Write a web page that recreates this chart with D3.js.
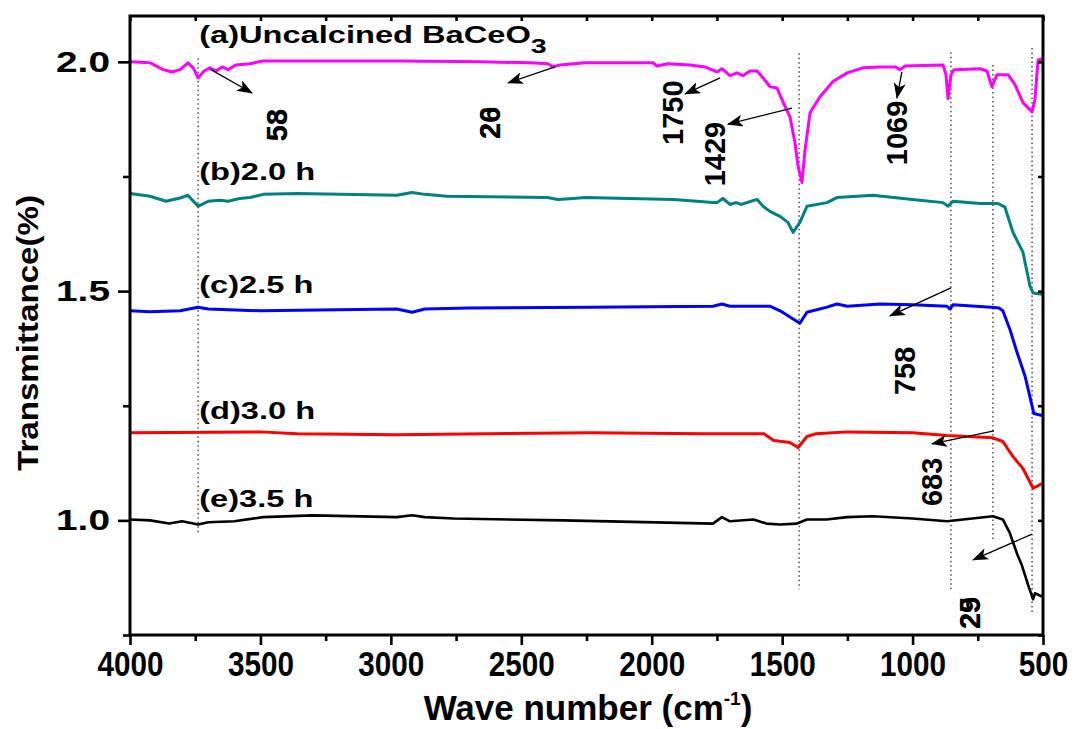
<!DOCTYPE html>
<html>
<head>
<meta charset="utf-8">
<script src="https://cdn.jsdelivr.net/npm/d3@7"></script>
<style>
  html, body { margin: 0; padding: 0; background: #fff; }
  text { font-family: "Liberation Sans", Arial, sans-serif; font-weight: bold; }
</style>
</head>
<body>
<div id="chart"></div>
<script>
// spectra as [wave number, transmittance]
var uncalcined = [[4000,2.000],[3923,1.998],[3873,1.983],[3839,1.978],[3808,1.983],[3778,1.998],[3758,1.987],
  [3739,1.965],[3716,1.980],[3693,1.987],[3670,1.980],[3647,1.989],[3624,1.983],[3594,1.993],[3540,1.996],
  [3490,2.002],[3348,2.002],[2965,2.002],[2658,2.000],[2467,1.998],[2398,1.996],[2378,1.989],[2352,1.993],
  [2256,1.998],[1995,1.998],[1980,1.991],[1938,1.996],[1853,1.993],[1796,1.989],[1750,1.978],[1731,1.985],
  [1700,1.970],[1673,1.976],[1650,1.970],[1623,1.980],[1596,1.980],[1573,1.965],[1547,1.946],[1520,1.943],
  [1497,1.913],[1470,1.880],[1451,1.824],[1439,1.772],[1424,1.737],[1412,1.809],[1393,1.889],[1355,1.924],
  [1305,1.957],[1251,1.976],[1190,1.987],[1125,1.989],[1067,1.989],[1048,1.983],[1029,1.991],[883,1.993],
  [872,1.972],[864,1.920],[853,1.972],[841,1.983],[742,1.985],[715,1.980],[696,1.946],[676,1.972],
  [634,1.972],[607,1.950],[577,1.911],[542,1.891],[531,1.917],[519,2.004],[500,2.007]];
var h20 = [[4000,1.713],[3923,1.707],[3862,1.696],[3808,1.703],[3778,1.709],[3739,1.685],[3700,1.696],
  [3655,1.698],[3624,1.696],[3580,1.702],[3540,1.704],[3490,1.711],[3360,1.713],[2977,1.709],[2919,1.715],
  [2870,1.711],[2785,1.707],[2400,1.704],[2360,1.700],[2300,1.702],[2256,1.704],[1915,1.700],[1765,1.693],
  [1750,1.693],[1727,1.702],[1700,1.689],[1677,1.693],[1658,1.689],[1596,1.700],[1573,1.685],[1547,1.674],
  [1508,1.663],[1478,1.650],[1458,1.628],[1432,1.650],[1405,1.685],[1328,1.693],[1290,1.704],[1152,1.709],
  [1000,1.700],[883,1.693],[864,1.685],[845,1.696],[742,1.691],[673,1.691],[646,1.683],[615,1.628],
  [577,1.585],[550,1.511],[538,1.496],[504,1.493]];
var h25 = [[4000,1.457],[3923,1.455],[3808,1.457],[3739,1.465],[3700,1.461],[3500,1.457],[2977,1.461],
  [2919,1.454],[2870,1.461],[2700,1.463],[2237,1.465],[1765,1.467],[1731,1.472],[1700,1.467],[1547,1.467],
  [1508,1.457],[1458,1.439],[1432,1.430],[1405,1.454],[1328,1.465],[1290,1.472],[1250,1.467],[1125,1.472],
  [1000,1.470],[868,1.467],[857,1.461],[845,1.470],[700,1.465],[669,1.463],[654,1.457],[627,1.417],
  [600,1.367],[569,1.315],[535,1.233],[500,1.228]];
var h30 = [[4000,1.191],[3500,1.193],[3360,1.189],[2977,1.187],[2237,1.191],[1800,1.189],[1570,1.189],
  [1532,1.174],[1470,1.170],[1439,1.159],[1405,1.183],[1370,1.189],[1251,1.193],[1000,1.191],[868,1.185],
  [692,1.180],[654,1.172],[615,1.139],[577,1.113],[538,1.070],[504,1.080]];
var h35 = [[4000,1.002],[3923,1.000],[3850,0.993],[3800,0.998],[3739,0.991],[3700,0.996],[3600,0.998],
  [3490,1.007],[3300,1.011],[2977,1.007],[2919,1.011],[2870,1.007],[2760,1.004],[2340,1.000],[1765,0.993],
  [1731,1.007],[1700,0.998],[1610,1.002],[1560,0.993],[1508,0.991],[1444,0.993],[1405,1.002],[1330,1.002],
  [1251,1.007],[1152,1.009],[1000,1.004],[868,0.998],[692,1.009],[654,1.002],[627,0.972],[600,0.928],
  [581,0.902],[554,0.854],[538,0.828],[531,0.841],[504,0.834]];

var seriesData = [uncalcined, h20, h25, h30, h35];
var seriesColors = ["#ff00ff", "#008080", "#0000ff", "#ff0000", "#000000"];
var seriesNames = ["(a)Uncalcined BaCeO", "(b)2.0 h", "(c)2.5 h", "(d)3.0 h", "(e)3.5 h"];
var seriesLabelT = [2.041, 1.742, 1.496, 1.221, 1.029];

var xMajor = [4000, 3500, 3000, 2500, 2000, 1500, 1000, 500];
var xMinor = [3750, 3250, 2750, 2250, 1750, 1250, 750];
var yMajor = [1.0, 1.5, 2.0];
var yMinor = [0.75, 1.25, 1.75];

// dotted guide lines: [wave number, T top, T bottom]
var guides = [[3739, 2.008, 0.970], [1435, 2.019, 0.850], [853, 2.021, 0.850], [692, 1.993, 0.957], [542, 2.030, 0.798]];
// arrows: [from wn, from T, to wn, to T]
var arrows = [[3693,1.984,3532,1.932],[2371,1.989,2551,1.954],[1738,1.965,1872,1.930],[1462,1.899,1708,1.864],
  [1041,1.978,1060,1.921],[853,1.507,1087,1.446],[688,1.195,926,1.167],[542,0.970,768,0.914]];
// peak labels (rotated): [text, wn, T]
var peakLabels = [["53",3436,1.862],["58",3436,1.862],["20",2620,1.867],["26",2620,1.867],["1750",1918,1.889],
  ["1429",1757,1.799],["1069",1060,1.845],["758",1029,1.326],["683",926,1.084],["25",780,0.798],["29",780,0.798]];

function drawChart() {
  var width = 1077, height = 729;
  var mLeft = 130, mRight = 1043, mTop = 16, mBottom = 635;

  var x = d3.scaleLinear().domain([4000, 500]).range([mLeft, mRight]);
  var y = d3.scaleLinear().domain([0.75, 2.1]).range([mBottom, mTop]);

  var svg = d3.select("#chart").append("svg")
    .attr("width", width).attr("height", height);

  svg.append("defs").append("marker").attr("id", "arrowhead")
    .attr("markerUnits", "userSpaceOnUse")
    .attr("markerWidth", 16).attr("markerHeight", 12)
    .attr("refX", 15).attr("refY", 6)
    .attr("orient", "auto")
    .append("path").attr("d", "M0,0 L16,6 L0,12 L4,6 Z").attr("fill", "#000");

  // guide lines
  svg.append("g").selectAll("line").data(guides).enter().append("line")
    .attr("x1", function(d) { return x(d[0]); })
    .attr("x2", function(d) { return x(d[0]); })
    .attr("y1", function(d) { return y(d[1]); })
    .attr("y2", function(d) { return y(d[2]); })
    .attr("stroke", "#222").attr("stroke-width", 1.2)
    .attr("stroke-dasharray", "1.5,3");

  // spectra
  var line = d3.line()
    .x(function(d) { return x(d[0]); })
    .y(function(d) { return y(d[1]); });

  svg.append("g").selectAll("path").data(seriesData).enter().append("path")
    .attr("d", line)
    .attr("fill", "none")
    .attr("stroke", function(d, i) { return seriesColors[i]; })
    .attr("stroke-width", function(d, i) { return i == 4 ? 2.6 : 3; })
    .attr("stroke-linejoin", "round");

  // axes
  function styleAxis(g) {
    g.select(".domain").remove();
    g.selectAll("line").attr("stroke", "#000").attr("stroke-width", 2.6);
  }

  svg.append("g").attr("transform", "translate(0," + mBottom + ")")
    .call(d3.axisBottom(x).tickValues(xMinor).tickSize(6).tickFormat(""))
    .call(styleAxis);
  var xAxis = svg.append("g").attr("transform", "translate(0," + mBottom + ")")
    .call(d3.axisBottom(x).tickValues(xMajor).tickSize(10).tickPadding(6).tickFormat(d3.format("d")))
    .call(styleAxis);
  xAxis.selectAll("text")
    .attr("font-size", 35).attr("fill", "#000")
    .attr("textLength", function(d) { return String(d).length * 16.5; })
    .attr("lengthAdjust", "spacingAndGlyphs");

  svg.append("g").attr("transform", "translate(0," + mTop + ")")
    .call(d3.axisTop(x).tickValues(xMajor.concat(xMinor)).tickSize(-5).tickFormat(""))
    .call(styleAxis);

  svg.append("g").attr("transform", "translate(" + mLeft + ",0)")
    .call(d3.axisLeft(y).tickValues(yMinor).tickSize(7).tickFormat(""))
    .call(styleAxis);
  var yAxis = svg.append("g").attr("transform", "translate(" + mLeft + ",0)")
    .call(d3.axisLeft(y).tickValues(yMajor).tickSize(12).tickPadding(8).tickFormat(d3.format(".1f")))
    .call(styleAxis);
  yAxis.selectAll("text")
    .attr("font-size", 29).attr("fill", "#000")
    .attr("textLength", 54).attr("lengthAdjust", "spacingAndGlyphs");

  svg.append("g").attr("transform", "translate(" + mRight + ",0)")
    .call(d3.axisRight(y).tickValues(yMajor.concat(yMinor)).tickSize(-5).tickFormat(""))
    .call(styleAxis);

  // frame
  svg.append("rect")
    .attr("x", mLeft).attr("y", mTop)
    .attr("width", mRight - mLeft).attr("height", mBottom - mTop)
    .attr("fill", "none").attr("stroke", "#000").attr("stroke-width", 3);

  // series labels, drawn wide like the original
  var labelX = x(3735);
  seriesNames.forEach(function(name, i) {
    var g = svg.append("g")
      .attr("transform", "translate(" + labelX + "," + y(seriesLabelT[i]) + ") scale(1.36,1)");
    var t = g.append("text").attr("font-size", 24).attr("fill", "#000").text(name);
    if (i == 0) {
      t.append("tspan").attr("font-size", 21).attr("dy", 10).text("3");
    }
  });

  // arrows
  svg.append("g").selectAll("line").data(arrows).enter().append("line")
    .attr("x1", function(d) { return x(d[0]); })
    .attr("y1", function(d) { return y(d[1]); })
    .attr("x2", function(d) { return x(d[2]); })
    .attr("y2", function(d) { return y(d[3]); })
    .attr("stroke", "#000").attr("stroke-width", 1.3)
    .attr("marker-end", "url(#arrowhead)");

  // peak labels
  svg.append("g").selectAll("text").data(peakLabels).enter().append("text")
    .attr("transform", function(d) { return "translate(" + x(d[1]) + "," + y(d[2]) + ") rotate(-90)"; })
    .attr("text-anchor", "middle")
    .attr("dominant-baseline", "central")
    .attr("font-size", 29).attr("fill", "#000")
    .text(function(d) { return d[0]; });

  // axis titles
  var xTitle = svg.append("text")
    .attr("x", 588).attr("y", 720)
    .attr("text-anchor", "middle")
    .attr("font-size", 35).attr("fill", "#000");
  xTitle.append("tspan").text("Wave number (cm");
  xTitle.append("tspan").attr("font-size", 19).attr("dy", -15).text("-1");
  xTitle.append("tspan").attr("dy", 15).text(")");

  svg.append("text")
    .attr("transform", "translate(38,333) rotate(-90)")
    .attr("text-anchor", "middle")
    .attr("font-size", 30).attr("fill", "#000")
    .attr("textLength", 276).attr("lengthAdjust", "spacingAndGlyphs")
    .text("Transmittance(%)");
}

drawChart();
</script>
</body>
</html>
